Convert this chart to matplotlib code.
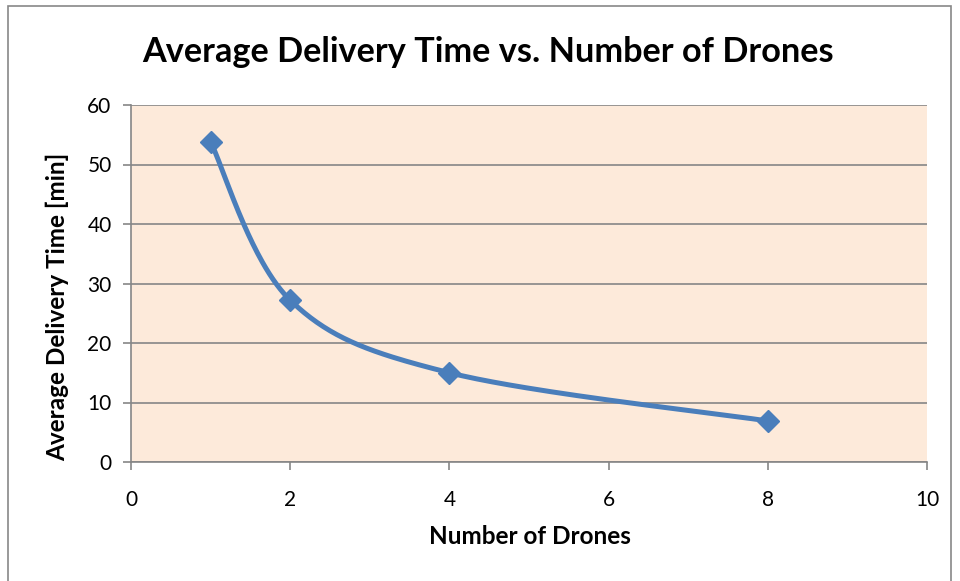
import numpy as np
import matplotlib
matplotlib.use("Agg")
import matplotlib.pyplot as plt
from matplotlib.patches import Rectangle

drones = [1, 2, 4, 8]
delivery_time = [53.8, 27.2, 15.0, 6.9]
x_ticks = [0, 2, 4, 6, 8, 10]
y_ticks = [0, 10, 20, 30, 40, 50, 60]
title = "Average Delivery Time vs. Number of Drones"
xlabel = "Number of Drones"
ylabel = "Average Delivery Time [min]"

FONT = "Lato"
LINE = "#4A7EBB"
GRID = "#868686"

W, H = 960, 581
fig = plt.figure(figsize=(W / 100, H / 100), dpi=100)
fig.patch.set_facecolor("white")
fig.add_artist(Rectangle((8 / W, -0.01), (951 - 8) / W, 1 - 6 / H + 0.01,
                         transform=fig.transFigure, fill=False,
                         edgecolor="#878787", linewidth=1.2))

ax = fig.add_axes([131 / W, 1 - 462 / H, (927 - 131) / W, (462 - 105) / H])
ax.set_xlim(0, 10)
ax.set_ylim(0, 60)
ax.set_facecolor("#FDEADA")
ax.set_xticks(x_ticks)
ax.set_yticks(y_ticks)
ax.grid(axis="y", color=GRID, linewidth=1.2)
ax.set_axisbelow(True)
for s in ["top", "right"]:
    ax.spines[s].set_visible(False)
for s in ["left", "bottom"]:
    ax.spines[s].set_color(GRID)
    ax.spines[s].set_linewidth(1.2)
ax.tick_params(colors=GRID, length=6, width=1.2, labelcolor="black",
               labelsize=15)
ax.tick_params(axis="y", pad=8)
ax.tick_params(axis="x", pad=14)
for lab in ax.get_xticklabels() + ax.get_yticklabels():
    lab.set_family(FONT)

# Excel-like smoothed line: cubic Bezier in display space
pts = ax.transData.transform(np.column_stack([drones, delivery_time]))
n = len(pts)
curve = []
tt = np.linspace(0, 1, 60)
for i in range(n - 1):
    p0 = pts[i]
    p3 = pts[i + 1]
    pm = pts[i - 1] if i > 0 else pts[i]
    pp = pts[i + 2] if i + 2 < n else pts[i + 1]
    c1 = p0 + (p3 - pm) / 6.0
    c2 = p3 - (pp - p0) / 6.0
    seg = ((1 - tt) ** 3)[:, None] * p0 + (3 * (1 - tt) ** 2 * tt)[:, None] * c1 \
        + (3 * (1 - tt) * tt ** 2)[:, None] * c2 + (tt ** 3)[:, None] * p3
    curve.append(seg)
curve = np.vstack(curve)
curve_data = ax.transData.inverted().transform(curve)
ax.plot(curve_data[:, 0], curve_data[:, 1], color=LINE, linewidth=3.6,
        solid_capstyle="round", zorder=3)
ax.plot(drones, delivery_time, linestyle="none", marker="D", markersize=11,
        color=LINE, zorder=4)

fig.text(488 / W, 1 - 52 / H, title, ha="center", va="center",
         fontsize=24.7, fontweight="bold", family=FONT)
fig.text(530 / W, 1 - 537 / H, xlabel, ha="center", va="center",
         fontsize=17.5, fontweight="bold", family=FONT)
fig.text(57 / W, 1 - 307 / H, ylabel, ha="center", va="center",
         fontsize=17.5, fontweight="bold", family=FONT, rotation=90)

fig.savefig("out.png", dpi=100)
